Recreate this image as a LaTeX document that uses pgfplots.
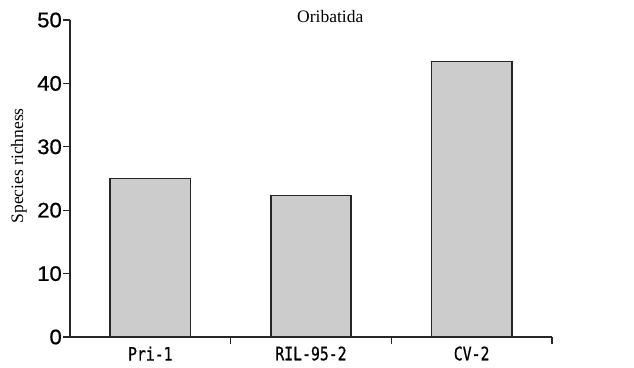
\documentclass[border=0pt]{standalone}
\usepackage{fontspec}
\setmainfont{Liberation Serif}
\newfontfamily\numfont[FakeStretch=1.05,FakeBold=0.8]{Liberation Sans}
\newfontfamily\monofont[FakeStretch=0.8,FakeBold=0.8]{DejaVu Sans Mono}
\usepackage{pgfplots}
\pgfplotsset{compat=1.18}
\definecolor{barfill}{RGB}{204,204,204}
\begin{document}
\begin{tikzpicture}
\begin{axis}[
  width=482pt, height=317pt, scale only axis,
  xmin=-0.5, xmax=2.5, ymin=0, ymax=50,
  axis lines*=left,
  axis line style={line width=1.4pt, color=black!85},
  tick align=outside,
  ytick={0,10,20,30,40,50},
  major tick length=7pt,
  tick style={line width=1.2pt, color=black!85},
  /pgf/number format/assume math mode=true,
  yticklabel style={font=\numfont\fontsize{21}{21}\selectfont, inner sep=1pt},
  xtick={0.5,1.5,2.5}, xticklabels={},
  extra x ticks={0,1,2},
  extra x tick labels={Pri-1,RIL-95-2,CV-2},
  extra x tick style={major tick length=0pt},
  xticklabel style={font=\monofont\fontsize{18.5}{18.5}\selectfont, yshift=-6pt},
  ylabel={Species richness},
  ylabel style={at={(axis description cs:-0.106,0.54)}, anchor=center, font=\fontsize{17.5}{17.5}\selectfont},
  clip=false,
]
\addplot[ybar, bar width=0.5, fill=barfill, draw=black!85, line width=1.4pt]
  coordinates {(0,25) (1,22.3) (2,43.5)};
\node[font=\fontsize{17.5}{17.5}\selectfont] at (axis cs:1.12,50.5) {Oribatida};
\end{axis}
\pgfresetboundingbox
\path[use as bounding box] (-70pt,-30pt) rectangle (564pt,337pt);
\end{tikzpicture}
\end{document}
